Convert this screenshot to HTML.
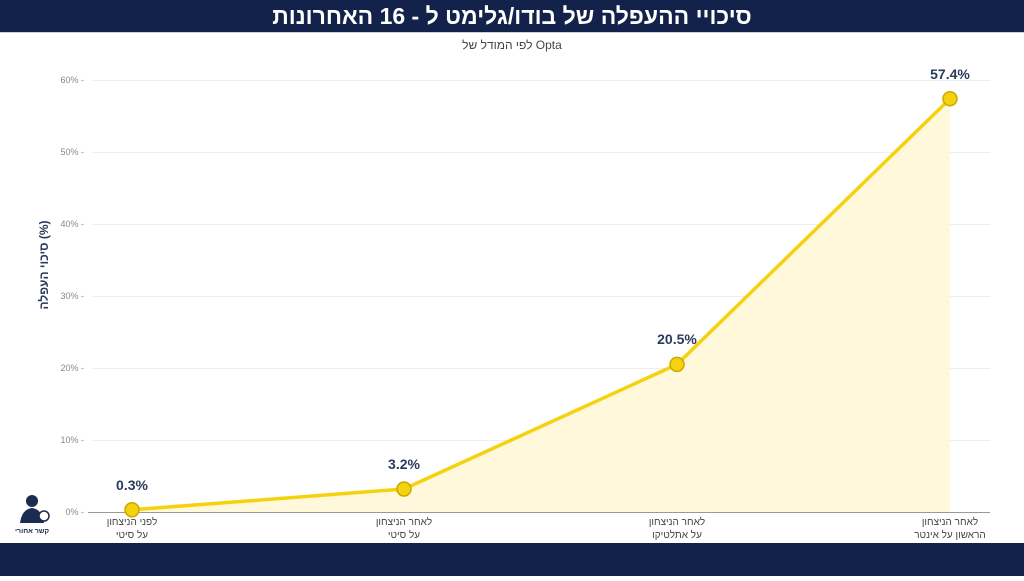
<!DOCTYPE html>
<html><head><meta charset="utf-8"><style>
body{margin:0;width:1024px;height:576px;overflow:hidden;background:#fff;font-family:"Liberation Sans","Noto Sans CJK SC",sans-serif}
</style></head><body>
<svg width="1024" height="576" xmlns="http://www.w3.org/2000/svg" font-family="Liberation Sans, Noto Sans CJK SC, sans-serif">
<rect x="0" y="0" width="1024" height="32" fill="#13224a"/>
<line x1="0" y1="32.5" x2="1024" y2="32.5" stroke="#c8d0dc"/>
<text x="512" y="24" text-anchor="middle" font-size="23" font-weight="bold" fill="#fff">סיכויי ההעפלה של בודו/גלימט ל - 16 האחרונות</text>
<text x="512" y="49" text-anchor="middle" font-size="12" fill="#444">לפי המודל של Opta</text>
<g stroke="#eeeeee" stroke-width="1">
<line x1="92" y1="80.5" x2="990" y2="80.5"/><line x1="92" y1="152.5" x2="990" y2="152.5"/><line x1="92" y1="224.5" x2="990" y2="224.5"/><line x1="92" y1="296.5" x2="990" y2="296.5"/><line x1="92" y1="368.5" x2="990" y2="368.5"/><line x1="92" y1="440.5" x2="990" y2="440.5"/>
</g>
<line x1="88" y1="512.5" x2="990" y2="512.5" stroke="#999"/>
<g font-size="9" fill="#888" text-anchor="end">
<text x="84" y="83">60% -</text><text x="84" y="155">50% -</text><text x="84" y="227">40% -</text><text x="84" y="299">30% -</text><text x="84" y="371">20% -</text><text x="84" y="443">10% -</text><text x="84" y="515">0% -</text>
</g>
<text transform="translate(48,265) rotate(-90)" text-anchor="middle" font-size="12" font-weight="bold" fill="#2a3a5a">סיכוי העפלה (%)</text>
<polygon points="132,512 132,509.8 404,489 677,364.4 950,98.7 950,512" fill="#fff7d6" opacity="0.9"/>
<polyline points="132,509.8 404,489 677,364.4 950,98.7" fill="none" stroke="#f5d20f" stroke-width="3.5"/>
<g fill="#f5d20f" stroke="#c9a800" stroke-width="1.5">
<circle cx="132" cy="509.8" r="7"/><circle cx="404" cy="489" r="7"/><circle cx="677" cy="364.4" r="7"/><circle cx="950" cy="98.7" r="7"/>
</g>
<g font-size="14" font-weight="bold" fill="#2a3a5a" text-anchor="middle">
<text x="132" y="490">0.3%</text><text x="404" y="469">3.2%</text><text x="677" y="344">20.5%</text><text x="950" y="79">57.4%</text>
</g>
<g font-size="10" fill="#444" text-anchor="middle">
<text x="132" y="525">לפני הניצחון</text><text x="132" y="538">על סיטי</text>
<text x="404" y="525">לאחר הניצחון</text><text x="404" y="538">על סיטי</text>
<text x="677" y="525">לאחר הניצחון</text><text x="677" y="538">על אתלטיקו</text>
<text x="950" y="525">לאחר הניצחון</text><text x="950" y="538">הראשון על אינטר</text>
</g>
<g fill="#1a2c50">
<circle cx="32" cy="501" r="6"/><path d="M20 523 Q22 509 32 508 Q42 509 44 523 Z"/>
<circle cx="44" cy="516" r="5" fill="#fff" stroke="#1a2c50" stroke-width="1.5"/>
<text x="32" y="533" font-size="7" text-anchor="middle" font-weight="bold">קשר אחורי</text>
</g>
<rect x="0" y="543" width="1024" height="33" fill="#13224a"/>
</svg>
</body></html>
